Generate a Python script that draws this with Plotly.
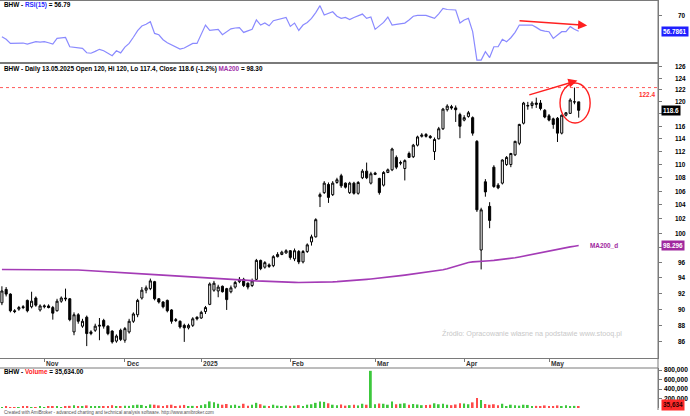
import numpy as np
import plotly.graph_objects as go

# ---------------- data ----------------
trading_days = {
    "2024-10": [18, 21, 22, 23, 24, 25, 28, 29, 30, 31],
    "2024-11": [4, 5, 6, 7, 8, 12, 13, 14, 15, 18, 19, 20, 21, 22, 25, 26, 27, 28, 29],
    "2024-12": [2, 3, 4, 5, 6, 9, 10, 11, 12, 13, 16, 17, 18, 19, 20, 23, 27, 30],
    "2025-01": [2, 3, 7, 8, 9, 10, 13, 14, 15, 16, 17, 20, 21, 22, 23, 24, 27, 28, 29, 30, 31],
    "2025-02": [3, 4, 5, 6, 7, 10, 11, 12, 13, 14, 17, 18, 19, 20, 21, 24, 25, 26, 27, 28],
    "2025-03": [3, 4, 5, 6, 7, 10, 11, 12, 13, 14, 17, 18, 19, 20, 21, 24, 25, 26, 27, 28, 31],
    "2025-04": [1, 2, 3, 4, 7, 8, 9, 10, 11, 14, 15, 16, 17, 22, 23, 24, 25, 28, 29, 30],
    "2025-05": [2, 5, 6, 7, 8, 9, 12, 13],
}
month_labels = ["Nov", "Dec", "2025", "Feb", "Mar", "Apr", "May"]

open_ = [
    90.8, 92.5, 91.9, 89.8, 90.0, 90.3, 91.1, 90.3, 91.4, 89.9,
    90.3, 90.4, 90.2, 89.8, 91.0, 91.4, 91.3, 87.2, 89.3, 87.9,
    89.0, 87.0, 87.4, 87.9, 88.6, 87.9, 87.3, 86.1, 87.4, 86.2,
    87.2, 88.5, 89.3, 91.4, 92.4, 92.6, 93.5, 91.3, 90.9, 91.1,
    89.9, 88.7, 88.5, 88.0, 87.7, 88.0, 89.0, 88.9, 89.7, 90.6,
    92.4, 92.3, 92.9, 92.6, 92.2, 92.8, 93.5, 93.8, 93.3, 93.0,
    93.8, 96.3, 95.4, 95.7, 95.6, 96.8, 97.1, 97.3, 97.6, 96.5,
    97.5, 96.1, 97.5, 98.8, 99.5, 105.2, 105.8, 107.0, 105.5, 107.3,
    108.3, 107.2, 105.8, 107.2, 105.7, 108.0, 109.0, 107.2, 108.5, 107.9,
    106.9, 108.8, 109.2, 111.1, 110.2, 109.4, 111.7, 111.2, 113.0, 114.4,
    114.7, 114.4, 112.0, 114.0, 115.6, 118.7, 119.2, 119.0, 117.9, 117.0,
    117.6, 117.4, 113.6, 97.7, 107.4, 103.8, 109.6, 106.9, 107.2, 110.0,
    110.0, 111.5, 113.3, 116.5, 119.3, 119.4, 119.8, 119.8, 118.6, 117.7,
    117.2, 117.3, 114.9, 117.8, 118.1, 120.0, 120.0,
]
high = [
    92.9, 92.8, 92.0, 90.0, 90.4, 90.5, 91.2, 92.2, 91.6, 90.6,
    90.6, 90.6, 90.4, 91.3, 91.6, 92.6, 91.4, 89.6, 89.5, 88.8,
    89.2, 87.4, 88.2, 88.9, 88.8, 88.0, 87.4, 86.9, 87.6, 87.8,
    88.8, 89.6, 91.3, 92.8, 93.0, 93.9, 93.6, 91.4, 91.0, 91.2,
    90.0, 88.9, 88.6, 88.2, 88.2, 89.0, 89.1, 89.8, 90.4, 93.4,
    93.6, 93.1, 93.0, 92.7, 93.0, 93.6, 94.1, 94.0, 93.4, 93.9,
    96.5, 96.4, 96.2, 95.9, 97.0, 97.4, 97.6, 97.8, 97.7, 97.9,
    97.7, 97.7, 98.6, 99.8, 102.1, 105.8, 107.5, 107.3, 107.5, 108.0,
    108.6, 107.3, 107.4, 107.4, 107.5, 109.3, 110.3, 108.9, 108.9, 108.0,
    109.0, 109.4, 112.6, 111.4, 110.6, 110.8, 112.0, 113.2, 114.5, 114.9,
    114.9, 114.6, 114.2, 115.9, 119.0, 119.6, 119.5, 119.4, 118.2, 117.8,
    118.5, 117.6, 113.8, 103.6, 107.8, 104.4, 109.9, 107.2, 110.8, 111.3,
    111.8, 113.7, 116.4, 120.0, 120.0, 120.1, 120.7, 120.3, 118.8, 118.0,
    117.4, 117.5, 117.9, 118.3, 120.6, 122.4, 120.0,
]
low = [
    90.5, 91.6, 89.6, 89.5, 89.8, 90.0, 89.6, 90.1, 90.3, 89.7,
    90.1, 90.1, 88.7, 89.7, 90.8, 91.0, 88.5, 86.8, 88.2, 87.7,
    85.5, 86.8, 87.2, 86.2, 87.6, 86.8, 85.8, 85.9, 86.1, 85.9,
    87.0, 88.3, 89.0, 91.2, 92.0, 92.4, 91.1, 90.7, 90.1, 89.6,
    88.2, 88.4, 87.6, 86.0, 87.5, 87.8, 88.6, 88.8, 89.4, 90.5,
    92.2, 91.5, 92.1, 89.9, 92.0, 92.6, 93.3, 92.8, 92.5, 92.8,
    93.7, 95.0, 95.2, 95.3, 95.4, 96.7, 97.0, 97.2, 96.4, 96.2,
    95.8, 95.9, 97.3, 98.3, 99.4, 103.7, 105.6, 104.3, 105.3, 107.1,
    106.5, 106.4, 105.6, 105.5, 105.5, 107.8, 107.8, 107.0, 108.4, 105.5,
    106.7, 108.7, 109.0, 109.3, 109.9, 107.6, 111.0, 111.0, 112.8, 114.2,
    114.2, 114.0, 110.7, 113.9, 115.4, 118.4, 118.7, 116.7, 114.1, 116.8,
    117.4, 114.5, 103.0, 95.1, 105.2, 100.7, 106.5, 106.3, 107.0, 109.8,
    109.6, 111.3, 113.0, 116.3, 118.7, 118.9, 119.0, 118.6, 117.3, 116.8,
    115.6, 113.5, 114.7, 117.6, 118.0, 119.6, 117.4,
]
close = [
    92.3, 91.9, 89.8, 89.7, 90.2, 90.2, 89.8, 91.0, 90.5, 90.4,
    90.4, 90.2, 89.5, 91.0, 91.4, 91.3, 88.7, 89.3, 88.5, 88.5,
    87.0, 87.2, 87.9, 88.0, 87.9, 87.0, 86.0, 86.7, 86.3, 87.6,
    88.5, 89.4, 91.1, 92.4, 92.7, 93.6, 91.3, 90.9, 90.3, 89.8,
    88.5, 88.6, 87.8, 87.7, 88.0, 88.8, 88.8, 89.6, 90.2, 93.2,
    93.3, 92.8, 92.2, 91.2, 92.7, 93.4, 93.8, 93.0, 92.8, 93.6,
    96.3, 95.2, 96.0, 95.5, 96.8, 97.1, 97.4, 97.6, 96.7, 97.6,
    96.1, 97.5, 98.4, 99.5, 101.9, 105.5, 107.2, 105.1, 107.2, 107.7,
    106.8, 106.6, 107.2, 105.7, 107.3, 109.0, 108.0, 108.6, 108.7, 105.8,
    108.8, 109.2, 112.4, 109.6, 110.3, 110.6, 111.1, 113.0, 114.3, 114.6,
    114.4, 114.2, 113.9, 115.6, 118.8, 119.3, 119.0, 118.7, 116.0, 117.4,
    118.2, 114.9, 103.3, 103.3, 105.9, 101.8, 106.7, 106.5, 110.7, 111.1,
    111.7, 113.6, 116.3, 119.8, 119.4, 119.8, 119.6, 118.9, 117.5, 117.0,
    116.3, 114.9, 117.8, 118.2, 120.3, 120.0, 118.6,
]
ma200 = [
    95.10, 95.10, 95.10, 95.10, 95.10, 95.10, 95.10, 95.10, 95.10, 95.10,
    95.10, 95.10, 95.10, 95.09, 95.08, 95.07, 95.06, 95.05, 95.03, 95.00,
    94.96, 94.92, 94.88, 94.84, 94.80, 94.76, 94.72, 94.69, 94.66, 94.63,
    94.60, 94.57, 94.54, 94.51, 94.48, 94.45, 94.42, 94.39, 94.36, 94.33,
    94.30, 94.27, 94.24, 94.21, 94.18, 94.15, 94.12, 94.09, 94.06, 94.03,
    94.00, 93.96, 93.92, 93.88, 93.84, 93.80, 93.76, 93.72, 93.68, 93.64,
    93.60, 93.57, 93.54, 93.51, 93.49, 93.47, 93.45, 93.43, 93.42, 93.41,
    93.40, 93.40, 93.40, 93.40, 93.41, 93.42, 93.43, 93.45, 93.47, 93.50,
    93.53, 93.57, 93.61, 93.65, 93.70, 93.75, 93.80, 93.85, 93.90, 93.95,
    94.00, 94.07, 94.14, 94.21, 94.28, 94.35, 94.42, 94.50, 94.58, 94.66,
    94.74, 94.82, 94.90, 94.98, 95.06, 95.20, 95.38, 95.56, 95.74, 95.90,
    96.02, 96.10, 96.16, 96.20, 96.23, 96.26, 96.30, 96.35, 96.40, 96.46,
    96.55, 96.65, 96.76, 96.88, 97.00, 97.12, 97.24, 97.36, 97.48, 97.60,
    97.71, 97.82, 97.93, 98.03, 98.12, 98.21, 98.30,
]
rsi15 = [
    52.4, 50.3, 47.0, 47.2, 47.0, 47.3, 46.4, 47.5, 48.4, 48.0,
    48.4, 47.5, 46.5, 51.1, 51.5, 51.8, 44.3, 43.8, 43.5, 43.0,
    39.4, 39.0, 40.5, 42.2, 41.0, 39.0, 37.0, 41.0, 39.3, 44.0,
    47.0, 52.0, 57.3, 61.1, 62.5, 64.6, 55.1, 54.0, 50.0, 47.5,
    45.7, 44.0, 42.4, 43.3, 45.0, 47.0, 47.0, 54.0, 61.9, 57.5,
    58.0, 58.4, 54.1, 56.5, 58.8, 59.5, 59.8, 55.9, 57.5, 58.5,
    66.0, 61.9, 63.6, 61.3, 65.4, 66.3, 67.0, 68.1, 60.8, 63.5,
    57.5, 61.9, 64.0, 67.3, 72.0, 77.6, 70.0, 71.5, 72.7, 69.0,
    67.3, 68.1, 66.3, 68.0, 69.5, 70.8, 67.3, 68.4, 58.4, 61.5,
    64.0, 68.4, 61.9, 62.5, 63.0, 63.5, 66.0, 69.0, 69.7, 69.7,
    69.7, 68.5, 67.3, 71.0, 75.4, 74.5, 74.1, 74.1, 63.5, 66.0,
    67.3, 56.5, 33.5, 33.5, 40.3, 35.5, 44.3, 44.3, 50.3, 48.4,
    51.6, 56.0, 61.9, 62.0, 61.5, 61.9, 60.0, 57.8, 57.0, 56.5,
    51.1, 54.0, 56.5, 56.5, 60.6, 58.5, 56.79,
]
volume = [
    15000, 25000, 20000, 10000, 15000, 25000, 30000, 20000, 15000, 30000,
    20000, 25000, 40000, 35000, 20000, 30000, 45000, 60000, 30000, 25000,
    55000, 30000, 25000, 40000, 35000, 45000, 60000, 30000, 40000, 50000,
    45000, 60000, 70000, 65000, 40000, 75000, 70000, 55000, 40000, 60000,
    70000, 35000, 55000, 65000, 40000, 45000, 30000, 60000, 80000, 140000,
    120000, 90000, 70000, 85000, 60000, 70000, 45000, 90000, 50000, 70000,
    110000, 80000, 50000, 40000, 70000, 50000, 40000, 55000, 45000, 50000,
    60000, 45000, 70000, 80000, 110000, 140000, 130000, 100000, 70000, 60000,
    75000, 50000, 60000, 70000, 55000, 90000, 70000, 790000, 80000, 95000,
    90000, 70000, 140000, 80000, 90000, 100000, 70000, 85000, 75000, 60000,
    65000, 70000, 100000, 80000, 90000, 70000, 60000, 75000, 100000, 95000,
    80000, 120000, 215000, 170000, 85000, 70000, 80000, 60000, 90000, 40000,
    70000, 60000, 50000, 70000, 65000, 40000, 45000, 30000, 55000, 40000,
    35000, 55000, 40000, 60000, 30000, 45000, 35634,
]
price_ticks = [86, 88, 90, 92, 94, 96, 98, 100, 102, 104, 106, 108, 110, 112,
               114, 116, 118, 120, 122, 124, 126]
volume_ticks = [200000, 400000, 600000, 800000]
rsi_ticks = [70]
resistance = 122.4

# ---------------- derived ----------------
dates = [f"{m}-{d:02d}" for m, days in trading_days.items() for d in days]
n = len(dates)
idx = list(range(n))
month_start = [i for i in range(1, n) if dates[i][:7] != dates[i - 1][:7]]

W, H = 690, 416
PW = 658  # plot width


def py(pix):
    return 1 - pix / H


xr = [-0.45, 154.7]
yr_main = [np.log10(84.1), np.log10(126.65)]
px_per_log = (358 - 63) / (yr_main[1] - yr_main[0])
FONT = "Liberation Sans"
GRID = "#7a7a7a"

fig = go.Figure()

# RSI
fig.add_trace(go.Scatter(x=idx, y=rsi15, xaxis="x", yaxis="y", mode="lines",
                         line=dict(color="#8a8aff", width=1.2), hoverinfo="skip"))
# candles
fig.add_trace(go.Candlestick(
    x=idx, open=open_, high=high, low=low, close=close, xaxis="x2", yaxis="y2",
    increasing=dict(line=dict(color="black", width=1), fillcolor="white"),
    decreasing=dict(line=dict(color="black", width=1), fillcolor="black"),
    whiskerwidth=0))
# MA200
fig.add_trace(go.Scatter(x=idx, y=ma200, xaxis="x2", yaxis="y2", mode="lines",
                         line=dict(color="#a43bb6", width=1.6), hoverinfo="skip"))
# resistance dotted line
fig.add_trace(go.Scatter(x=xr, y=[resistance, resistance], xaxis="x2", yaxis="y2",
                         mode="lines", line=dict(color="#ff5a5a", width=1, dash="dot"),
                         hoverinfo="skip"))
# volume
vcol = ["#3cc83c" if c >= o else "#ff4a4a" for o, c in zip(open_, close)]
fig.add_trace(go.Bar(x=idx, y=volume, xaxis="x3", yaxis="y3", marker_color=vcol,
                     marker_line_width=0, width=0.42))

axis_common = dict(showgrid=False, zeroline=False, linecolor=GRID, linewidth=1)
fig.update_layout(
    width=W, height=H, autosize=False,
    margin=dict(l=0, r=W - PW, t=0, b=0),
    paper_bgcolor="white", plot_bgcolor="white",
    showlegend=False, font=dict(family=FONT, color="black"),
    xaxis=dict(domain=[0, 1], range=xr, anchor="y", showticklabels=False, ticks="",
               showline=True, mirror=True, **axis_common),
    xaxis2=dict(domain=[0, 1], range=xr, anchor="y2", matches="x", showticklabels=False,
                tickvals=month_start, ticks="outside", ticklen=3, tickcolor=GRID,
                showline=True, mirror=True, rangeslider=dict(visible=False), **axis_common),
    xaxis3=dict(domain=[0, 1], range=xr, anchor="y3", matches="x", showticklabels=False,
                ticks="", showline=False, showgrid=False, zeroline=False),
    yaxis=dict(domain=[py(63), py(1)], range=[31.1, 81.4], side="right",
               tickvals=rsi_ticks, ticks="outside", ticklen=3, tickcolor=GRID,
               showticklabels=False, showline=True, mirror=True, **axis_common),
    yaxis2=dict(domain=[py(358), py(63)], type="log", range=yr_main, side="right",
                tickvals=price_ticks, ticks="outside", ticklen=3, tickcolor=GRID,
                showticklabels=False, showline=True, mirror=True, **axis_common),
    yaxis3=dict(domain=[py(408), py(368)], range=[0, 850000], side="right",
                tickvals=volume_ticks, ticks="outside", ticklen=3, tickcolor=GRID,
                showticklabels=False, showline=True, mirror=False, **axis_common),
)

ann = []
shapes = []


def txt(x, y, text, xref="paper", yref="paper", size=6.4, color="black",
        xanchor="left", yanchor="middle", **kw):
    ann.append(dict(x=x, y=y, xref=xref, yref=yref, text=text, showarrow=False,
                    xanchor=xanchor, yanchor=yanchor,
                    font=dict(size=size, color=color, family=FONT), **kw))


# panel titles
txt(0, py(5), "<b>BHW - <span style='color:#2a2aff'>RSI(15)</span> = 56.79</b>", xshift=2)
txt(0, py(68.5), "<b>BHW - Daily 13.05.2025 Open 120, Hi 120, Lo 117.4, Close 118.6 (-1.2%) "
    "<span style='color:#a030a8'>MA200</span> = 98.30</b>", xshift=2)
txt(0, py(372), "<b>BHW - <span style='color:#ff2020'>Volume</span> = 35,634.00</b>", xshift=2)

# month labels
for i, lab in zip(month_start, month_labels):
    txt(i, py(363.5), f"<b>{lab}</b>", xref="x2", size=6.6, color="#333333")

# value flags (they cover the tick labels beneath them, as in the reference)
flag_vals = [close[-1], ma200[-1]]
for v in price_ticks:
    hidden = any(abs(np.log10(v) - np.log10(f)) * px_per_log < 8 for f in flag_vals)
    if not hidden:
        txt(688 / PW, np.log10(v), f"<b>{v}</b>", yref="y2", xanchor="right", size=6.4)
for v in rsi_ticks:
    txt(688 / PW, v, f"<b>{v}</b>", yref="y", xanchor="right", size=6.4)
for v in volume_ticks:
    txt(690 / PW, v, f"<b>{v:,}</b>", yref="y3", xanchor="right", size=6.6)


def flag(y, yref, text, bg, fg="white"):
    ann.append(dict(x=661 / PW, y=y, xref="paper", yref=yref, text=f"<b>{text}</b>",
                    showarrow=False, xanchor="left", yanchor="middle", bgcolor=bg,
                    borderpad=1, font=dict(size=6.4, color=fg, family=FONT)))


flag(rsi15[-1], "y", "56.7861", "#1f1fff")
flag(np.log10(close[-1]), "y2", "118.6", "#000000")
flag(np.log10(ma200[-1]), "y2", "98.296", "#a0289e")
flag(volume[-1] + 20000, "y3", "35,634", "#ff2a2a", fg="#300000")

# resistance label
txt(657 / PW, np.log10(resistance), "<b>122.4</b>", yref="y2", xanchor="right",
    yanchor="top", size=6.4, color="#ff3030", yshift=-1)
# MA label
txt(n - 1, np.log10(ma200[-1]), "<b>MA200_d</b>", xref="x2", yref="y2", size=6.4,
    color="#a0289e", xshift=9)
# watermark
txt(440 / PW, py(333), "Źródło: Opracowanie własne na podstawie www.stooq.pl",
    size=7.2, color="#c8c8c8")
# footer
txt(0, py(412.5), "Created with AmiBroker - advanced charting and technical analysis software. "
    "http://www.amibroker.com", size=4.6, color="#555555", xshift=2)

# red arrows
ann.append(dict(x=135.7, y=np.log10(123.6), ax=124.0, ay=np.log10(121.1),
                xref="x2", yref="y2", axref="x2", ayref="y2", text="", showarrow=True,
                arrowhead=2, arrowsize=1.3, arrowwidth=1.4, arrowcolor="#ff2020"))
ann.append(dict(x=138.0, y=61.6, ax=121.7, ay=65.4,
                xref="x", yref="y", axref="x", ayref="y", text="", showarrow=True,
                arrowhead=2, arrowsize=1.3, arrowwidth=1.4, arrowcolor="#ff2020"))

# ellipse around last candles
shapes.append(dict(type="circle", xref="x2", yref="paper", x0=131.6, x1=138.7,
                   y0=py(123), y1=py(83), line=dict(color="#ff2020", width=1.4)))
# separators
shapes.append(dict(type="line", xref="paper", yref="paper", x0=0, x1=1,
                   y0=py(368), y1=py(368), line=dict(color=GRID, width=1)))
shapes.append(dict(type="line", xref="paper", yref="paper", x0=1, x1=1,
                   y0=py(410), y1=1, line=dict(color=GRID, width=1)))

fig.update_layout(annotations=ann, shapes=shapes)
fig.write_html("out.html")
